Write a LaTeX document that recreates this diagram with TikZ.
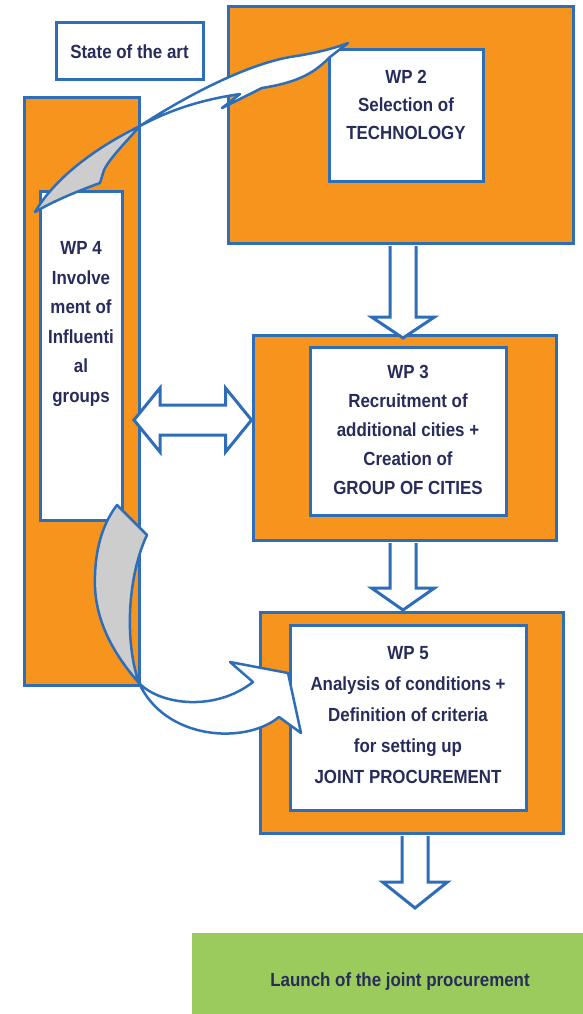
\documentclass[tikz,border=0pt]{standalone}
\usepackage{fontspec}
\setmainfont{Liberation Sans}[FakeStretch=0.89]
\usetikzlibrary{calc}
\definecolor{org}{RGB}{247,148,30}
\definecolor{bl}{RGB}{46,110,185}
\definecolor{txtc}{RGB}{40,44,90}
\definecolor{grn}{RGB}{155,203,92}
\definecolor{gry}{RGB}{205,205,205}
\begin{document}
\begin{tikzpicture}[x=1pt,y=-1pt,
  obox/.style={draw=bl,line width=3pt,fill=org,inner sep=0pt,rectangle},
  ibox/.style={draw=bl,line width=3pt,fill=white,inner sep=0pt,rectangle},
  txt/.style={text=txtc,font=\fontsize{19}{29.5}\selectfont\bfseries,align=center,inner sep=0pt},
  blk/.style={draw=bl,line width=3pt,fill=white,line join=miter},
  rib/.style={draw=bl,line width=2.5pt,line join=round},
]
\useasboundingbox (0,0) rectangle (582,1014);
\fill[white] (0,0) rectangle (582,1014);

% boxes
\node[ibox,txt,minimum width=147pt,minimum height=57pt] (sota) at (129.5,51.5) {State of the art};
\node[obox,minimum width=345pt,minimum height=236pt] (wp2o) at (400.5,125) {};
\node[ibox,minimum width=154pt,minimum height=131pt] (wp2i) at (406,115.5) {};
\node[obox,minimum width=115pt,minimum height=587pt] (wp4o) at (81.5,391.5) {};
\node[ibox,minimum width=82pt,minimum height=329pt] (wp4i) at (81,355.5) {};
\node[obox,minimum width=303pt,minimum height=205pt] (wp3o) at (404.5,437.5) {};
\node[ibox,minimum width=196pt,minimum height=168pt] (wp3i) at (408,431) {};
\node[obox,minimum width=303pt,minimum height=221pt] (wp5o) at (411.5,722.5) {};
\node[ibox,minimum width=236pt,minimum height=185pt] (wp5i) at (408,717.5) {};
\node[txt,fill=grn,minimum width=416pt,minimum height=98pt] (launch) at (400,982) {Launch of the joint procurement};

% texts
\node[txt,font=\fontsize{19}{28}\selectfont\bfseries] (wp2t) at (406,105) {WP 2\\Selection of\\TECHNOLOGY};
\node[txt] (wp4t) at (81,324) {WP 4\\Involve\\ment of\\Influenti\\al\\groups};
\node[txt,font=\fontsize{19}{29}\selectfont\bfseries] (wp3t) at (408,430) {WP 3\\Recruitment of\\additional cities +\\Creation of\\GROUP OF CITIES};
\node[txt,font=\fontsize{19}{31}\selectfont\bfseries] (wp5t) at (408,715) {WP 5\\Analysis of conditions +\\Definition of criteria\\for setting up\\JOINT PROCUREMENT};

% block arrows
\coordinate (a1t) at (403,338);
\coordinate (a1s) at (a1t |- wp2o.south);
\draw[blk] ($(a1s)+(-13,1.5)$) -- ($(a1t)+(-13,-21)$) -- ($(a1t)+(-31.5,-21)$) -- (a1t) -- ($(a1t)+(31.5,-21)$) -- ($(a1t)+(13,-21)$) -- ($(a1s)+(13,1.5)$);
\coordinate (a2t) at (403,610);
\coordinate (a2s) at (a2t |- wp3o.south);
\draw[blk] ($(a2s)+(-13,1.5)$) -- ($(a2t)+(-13,-22)$) -- ($(a2t)+(-31.5,-22)$) -- (a2t) -- ($(a2t)+(31.5,-22)$) -- ($(a2t)+(13,-22)$) -- ($(a2s)+(13,1.5)$);
\coordinate (a3t) at (415,908);
\coordinate (a3s) at (a3t |- wp5o.south);
\draw[blk] ($(a3s)+(-13,1.5)$) -- ($(a3t)+(-13,-26)$) -- ($(a3t)+(-32.5,-26)$) -- (a3t) -- ($(a3t)+(32.5,-26)$) -- ($(a3t)+(13,-26)$) -- ($(a3s)+(13,1.5)$);
\coordinate (dl) at (134,420);
\coordinate (dr) at (wp3o.west |- dl);
\draw[blk] (dl) -- ($(dl)+(26,-32)$) -- ($(dl)+(26,-15)$) -- ($(dr)+(-26,-15)$) -- ($(dr)+(-26,-32)$) -- (dr) -- ($(dr)+(-26,32)$) -- ($(dr)+(-26,15)$) -- ($(dl)+(26,15)$) -- ($(dl)+(26,32)$) -- cycle;

% curved ribbon arrow WP4 -> WP2
\draw[rib,fill=gry] (35,212) .. controls (55,178) and (95,148) .. (140,126) .. controls (125,143) and (110,158) .. (104,170) -- (100,183) .. controls (75,192) and (52,202) .. cycle;
\draw[rib,fill=white] (140,126) .. controls (175,103) and (240,66) .. (290,57) .. controls (310,54) and (330,50) .. (348,43) -- (330,57) .. controls (315,72) and (300,82) .. (262,88) -- (222,108) -- (240,94) .. controls (200,100) and (170,110) .. cycle;

% curved ribbon arrow WP4 -> WP5
\draw[rib,fill=gry] (117,505) -- (147,535) .. controls (128,575) and (124,640) .. (139,683) .. controls (110,650) and (93,615) .. (95,575) .. controls (96,545) and (104,522) .. cycle;
\draw[rib,fill=white] (139,683) .. controls (160,705) and (215,712) .. (253,682) -- (230,662) -- (288,673) -- (301,733) -- (279,717) .. controls (245,745) and (165,740) .. cycle;
\end{tikzpicture}
\end{document}
